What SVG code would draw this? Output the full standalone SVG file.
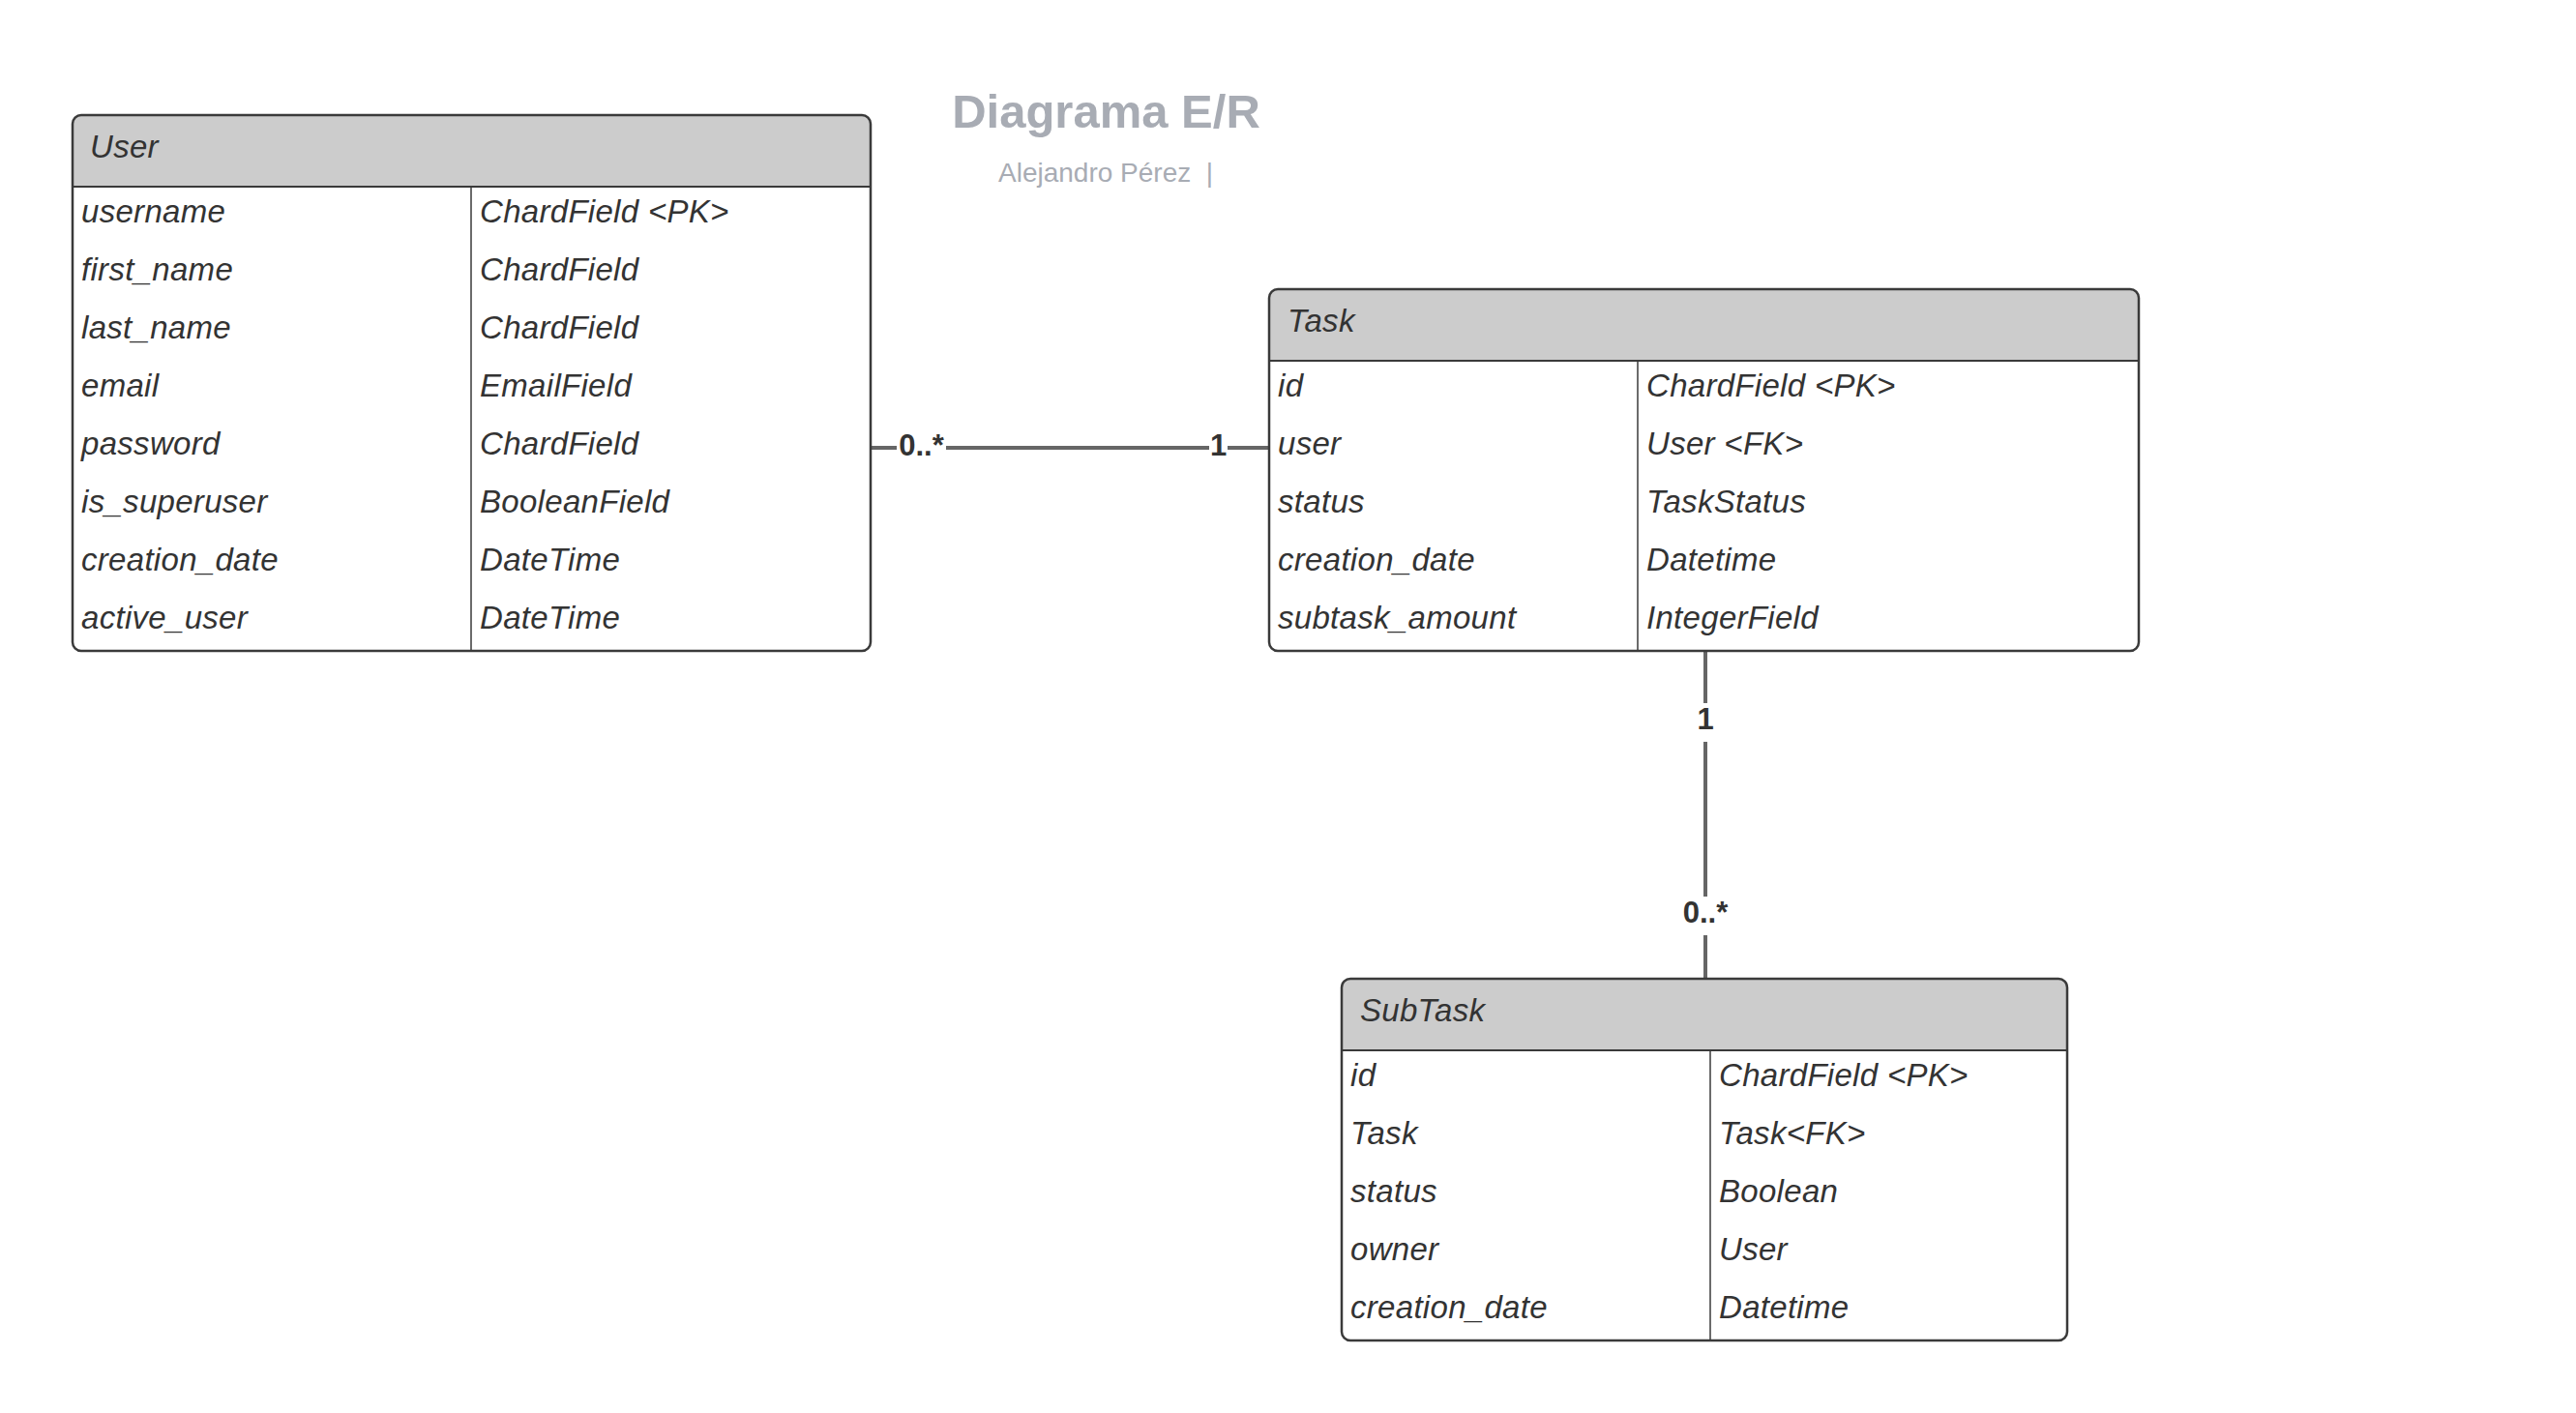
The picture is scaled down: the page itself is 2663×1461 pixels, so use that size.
<svg xmlns="http://www.w3.org/2000/svg" width="2663" height="1461" viewBox="0 0 2663 1461">
<style>
.bg{fill:#ffffff}
.body{fill:#ffffff}
.hdr{fill:#cccccc}
.frame{fill:none;stroke:#3a3a3a;stroke-width:2.5}
.sep{stroke:#3a3a3a;stroke-width:2}
.div{stroke:#3a3a3a;stroke-width:1.5}
.t{font-family:"Liberation Sans",Arial,sans-serif;font-style:italic;font-size:33px;letter-spacing:0.3px;fill:#333333}
.lbl{font-family:"Liberation Sans",Arial,sans-serif;font-weight:bold;font-size:31px;fill:#333333;text-anchor:middle}
.conn{stroke:#666666;stroke-width:4;fill:none}
.title{font-family:"Liberation Sans",Arial,sans-serif;font-weight:bold;font-size:49px;fill:#a8acb4;text-anchor:middle}
.sub{font-family:"Liberation Sans",Arial,sans-serif;font-size:28px;fill:#a8acb4;white-space:pre}
</style>
<rect class="bg" x="0" y="0" width="2663" height="1461"/>

<g id="title">
<text class="title" x="1143.5" y="132">Diagrama E/R</text>
<text class="sub" x="1032" y="188" xml:space="preserve">Alejandro Pérez  |</text>
</g>

<g id="connectors">
<line class="conn" x1="900" y1="463" x2="927" y2="463"/>
<line class="conn" x1="978" y1="463" x2="1250" y2="463"/>
<line class="conn" x1="1269" y1="463" x2="1312" y2="463"/>
<text class="lbl" x="952.5" y="471">0..*</text>
<text class="lbl" x="1259.5" y="471">1</text>
<line class="conn" x1="1763" y1="673" x2="1763" y2="727"/>
<line class="conn" x1="1763" y1="767" x2="1763" y2="927"/>
<line class="conn" x1="1763" y1="967" x2="1763" y2="1012"/>
<text class="lbl" x="1763" y="754">1</text>
<text class="lbl" x="1763" y="954">0..*</text>
</g>

<g id="node-user">
<rect class="body" x="75" y="119" width="825" height="554" rx="9"/>
<path class="hdr" d="M75,193 V128 A9,9 0 0 1 84,119 H891 A9,9 0 0 1 900,128 V193 Z"/>
<line class="sep" x1="75" y1="193" x2="900" y2="193"/>
<line class="div" x1="487" y1="193" x2="487" y2="673"/>
<rect class="frame" x="75" y="119" width="825" height="554" rx="9"/>
<text class="t" x="93" y="163">User</text>
<text class="t" x="84" y="230">username</text>
<text class="t" x="84" y="290">first_name</text>
<text class="t" x="84" y="350">last_name</text>
<text class="t" x="84" y="410">email</text>
<text class="t" x="84" y="470">password</text>
<text class="t" x="84" y="530">is_superuser</text>
<text class="t" x="84" y="590">creation_date</text>
<text class="t" x="84" y="650">active_user</text>
<text class="t" x="496" y="230">ChardField &lt;PK&gt;</text>
<text class="t" x="496" y="290">ChardField</text>
<text class="t" x="496" y="350">ChardField</text>
<text class="t" x="496" y="410">EmailField</text>
<text class="t" x="496" y="470">ChardField</text>
<text class="t" x="496" y="530">BooleanField</text>
<text class="t" x="496" y="590">DateTime</text>
<text class="t" x="496" y="650">DateTime</text>
</g>

<g id="node-task">
<rect class="body" x="1312" y="299" width="899" height="374" rx="9"/>
<path class="hdr" d="M1312,373 V308 A9,9 0 0 1 1321,299 H2202 A9,9 0 0 1 2211,308 V373 Z"/>
<line class="sep" x1="1312" y1="373" x2="2211" y2="373"/>
<line class="div" x1="1693" y1="373" x2="1693" y2="673"/>
<rect class="frame" x="1312" y="299" width="899" height="374" rx="9"/>
<text class="t" x="1331" y="343">Task</text>
<text class="t" x="1321" y="410">id</text>
<text class="t" x="1321" y="470">user</text>
<text class="t" x="1321" y="530">status</text>
<text class="t" x="1321" y="590">creation_date</text>
<text class="t" x="1321" y="650">subtask_amount</text>
<text class="t" x="1702" y="410">ChardField &lt;PK&gt;</text>
<text class="t" x="1702" y="470">User &lt;FK&gt;</text>
<text class="t" x="1702" y="530">TaskStatus</text>
<text class="t" x="1702" y="590">Datetime</text>
<text class="t" x="1702" y="650">IntegerField</text>
</g>

<g id="node-subtask">
<rect class="body" x="1387" y="1012" width="750" height="374" rx="9"/>
<path class="hdr" d="M1387,1086 V1021 A9,9 0 0 1 1396,1012 H2128 A9,9 0 0 1 2137,1021 V1086 Z"/>
<line class="sep" x1="1387" y1="1086" x2="2137" y2="1086"/>
<line class="div" x1="1768" y1="1086" x2="1768" y2="1386"/>
<rect class="frame" x="1387" y="1012" width="750" height="374" rx="9"/>
<text class="t" x="1406" y="1056">SubTask</text>
<text class="t" x="1396" y="1123">id</text>
<text class="t" x="1396" y="1183">Task</text>
<text class="t" x="1396" y="1243">status</text>
<text class="t" x="1396" y="1303">owner</text>
<text class="t" x="1396" y="1363">creation_date</text>
<text class="t" x="1777" y="1123">ChardField &lt;PK&gt;</text>
<text class="t" x="1777" y="1183">Task&lt;FK&gt;</text>
<text class="t" x="1777" y="1243">Boolean</text>
<text class="t" x="1777" y="1303">User</text>
<text class="t" x="1777" y="1363">Datetime</text>
</g>
</svg>
